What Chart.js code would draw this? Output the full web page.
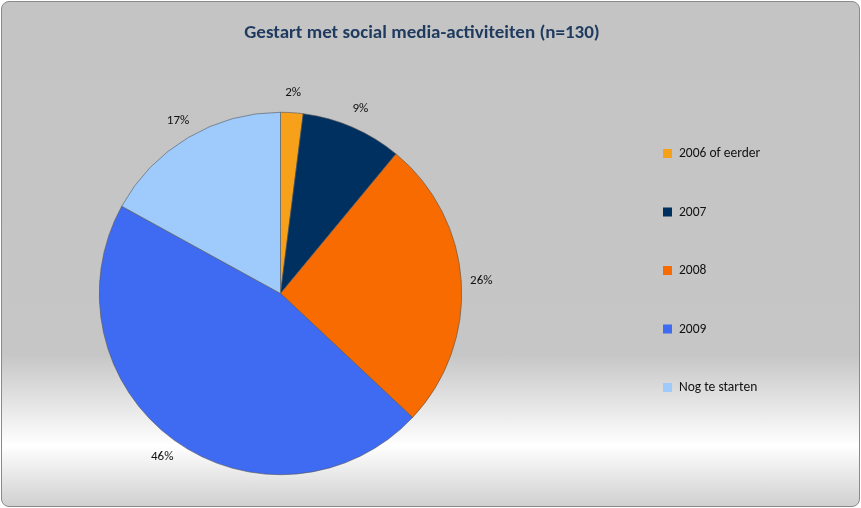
<!DOCTYPE html>
<html><head><meta charset="utf-8">
<script src="https://cdn.jsdelivr.net/npm/chart.js@4"></script>
<style>
html,body{margin:0;padding:0;background:#fff;}
#wrap{position:absolute;left:1px;top:1px;width:857px;height:504px;border:1px solid #8a8a8a;border-radius:8px;
background:linear-gradient(to bottom,#c4c4c4 0%,#c6c6c6 70%,#ffffff 88%,#d0d0d0 100%);overflow:hidden;}
canvas{position:absolute;left:0;top:0;}
</style></head><body>
<div id="wrap"><canvas id="c" width="857" height="504"></canvas></div>
<script>
const TITLE = 'Gestart met social media-activiteiten (n=130)';
const LABELS = ['2006 of eerder', '2007', '2008', '2009', 'Nog te starten'];
const VALUES = [2, 9, 26, 46, 17];
const COLORS = ['#f7a11a', '#00305f', '#f86b00', '#3e6bf2', '#9ecbfb'];
const FONT = "Calibri, Carlito, 'Liberation Sans', sans-serif";

new Chart(document.getElementById('c'), {
    type: 'pie',
    data: { labels: LABELS, datasets: [{ data: VALUES, backgroundColor: COLORS, borderColor: '#555', borderWidth: 0.6 }] },
    options: {
        responsive: false,
        animation: false,
        layout: { padding: { left: 96, right: 396, top: 110, bottom: 31 } },
        plugins: { legend: { display: false }, tooltip: { enabled: false } }
    },
    plugins: [{
        id: 'extras',
        afterDraw: (chart) => {
            const { ctx } = chart;
            ctx.save();
            ctx.fillStyle = '#1f3a5f';
            ctx.font = 'bold 19px ' + FONT;
            ctx.textAlign = 'center';
            ctx.textBaseline = 'middle';
            ctx.fillText(TITLE, 420, 31);

            // percentage labels outside the slices
            ctx.font = '13px ' + FONT;
            ctx.fillStyle = '#111';
            const meta = chart.getDatasetMeta(0);
            meta.data.forEach((arc, i) => {
                const p = arc.getProps(['x', 'y', 'startAngle', 'endAngle', 'outerRadius'], true);
                const a = (p.startAngle + p.endAngle) / 2;
                const r = p.outerRadius + 20;
                ctx.fillText(VALUES[i] + '%', p.x + Math.cos(a) * r, p.y + Math.sin(a) * r);
            });

            // legend
            ctx.textAlign = 'left';
            ctx.font = '13.5px ' + FONT;
            LABELS.forEach((l, i) => {
                const y = 152 + i * 58.5;
                ctx.fillStyle = COLORS[i];
                ctx.fillRect(661, y - 5, 9, 9);
                ctx.fillStyle = '#111';
                ctx.fillText(l, 677, y);
            });
            ctx.restore();
        }
    }]
});
</script>
</body></html>
